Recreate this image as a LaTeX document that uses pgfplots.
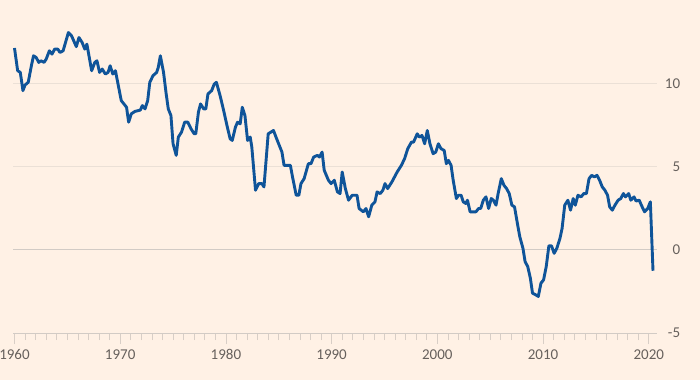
\documentclass[border=0pt]{standalone}
\usepackage{pgfplots}
\pgfplotsset{compat=1.18}
\usepackage{fontspec}
\setmainfont{Carlito}
\definecolor{bg}{HTML}{FFF1E5}
\definecolor{ftblue}{HTML}{0F5499}
\definecolor{gridc}{HTML}{EBE0D6}
\definecolor{zeroc}{HTML}{D2CBC5}
\definecolor{tickc}{HTML}{D8CEC6}
\definecolor{txt}{HTML}{66605C}
\pgfplotstableread{
x y
1960.0 12.17
1960.3 10.8
1960.55 10.7
1960.8 9.6
1961.0 9.94
1961.3 10.1
1961.6 11.1
1961.8 11.7
1962.05 11.6
1962.3 11.3
1962.5 11.4
1962.8 11.3
1963.0 11.5
1963.3 12.0
1963.55 11.8
1963.8 12.1
1964.1 12.1
1964.3 11.9
1964.6 12.0
1965.1 13.1
1965.4 12.9
1965.85 12.25
1966.1 12.8
1966.4 12.5
1966.65 12.1
1966.85 12.4
1967.3 10.8
1967.6 11.3
1967.8 11.4
1968.05 10.7
1968.3 10.9
1968.6 10.6
1968.85 10.7
1969.05 11.1
1969.3 10.6
1969.55 10.8
1970.1 9.0
1970.6 8.6
1970.8 7.7
1971.05 8.2
1971.4 8.35
1971.9 8.43
1972.1 8.7
1972.35 8.5
1972.6 9.0
1972.8 10.1
1973.1 10.5
1973.45 10.7
1973.6 11.0
1973.8 11.7
1974.1 10.7
1974.35 9.4
1974.55 8.5
1974.8 8.1
1975.0 6.4
1975.3 5.7
1975.5 6.8
1975.8 7.1
1976.1 7.7
1976.4 7.7
1976.7 7.3
1977.0 7.0
1977.15 7.0
1977.4 8.3
1977.6 8.8
1977.9 8.5
1978.1 8.5
1978.3 9.4
1978.65 9.6
1978.9 10.0
1979.1 10.1
1979.45 9.3
1979.75 8.5
1980.1 7.5
1980.4 6.7
1980.6 6.6
1980.9 7.4
1981.1 7.7
1981.35 7.6
1981.55 8.6
1981.8 8.1
1982.05 6.6
1982.3 6.8
1982.45 6.2
1982.8 3.6
1983.1 4.0
1983.4 4.0
1983.6 3.8
1984.0 7.0
1984.5 7.2
1984.8 6.7
1985.3 5.9
1985.5 5.1
1986.1 5.1
1986.3 4.4
1986.65 3.3
1986.9 3.3
1987.1 4.0
1987.4 4.3
1987.8 5.2
1988.05 5.2
1988.3 5.6
1988.65 5.7
1988.85 5.6
1989.1 5.9
1989.3 4.8
1989.7 4.2
1989.95 4.0
1990.25 4.2
1990.55 3.5
1990.8 3.4
1991.0 4.7
1991.3 3.7
1991.6 3.0
1991.95 3.3
1992.4 3.3
1992.6 2.5
1993.0 2.3
1993.25 2.5
1993.5 2.0
1993.8 2.7
1994.1 2.9
1994.3 3.5
1994.6 3.4
1994.85 3.6
1995.05 4.0
1995.3 3.7
1995.7 4.1
1996.2 4.7
1996.6 5.1
1996.9 5.5
1997.2 6.1
1997.55 6.5
1997.75 6.5
1998.1 7.0
1998.3 6.8
1998.55 6.9
1998.8 6.4
1999.05 7.2
1999.3 6.4
1999.6 5.8
1999.85 5.9
2000.1 6.4
2000.35 6.1
2000.65 6.0
2000.85 5.2
2001.05 5.4
2001.3 5.1
2001.5 4.2
2001.8 3.1
2002.0 3.3
2002.25 3.3
2002.45 2.9
2002.7 2.8
2002.85 3.0
2003.1 2.3
2003.4 2.3
2003.65 2.3
2003.9 2.5
2004.1 2.5
2004.35 3.0
2004.6 3.2
2004.85 2.5
2005.1 3.1
2005.3 3.0
2005.55 2.7
2005.75 3.4
2006.05 4.3
2006.3 3.9
2006.55 3.7
2006.8 3.4
2007.05 2.7
2007.3 2.6
2007.6 1.5
2007.8 0.8
2008.1 0.1
2008.3 -0.7
2008.55 -1.0
2008.8 -1.7
2009.0 -2.6
2009.3 -2.7
2009.55 -2.8
2009.8 -2.0
2010.05 -1.8
2010.3 -1.0
2010.55 0.25
2010.8 0.25
2011.05 -0.2
2011.3 0.1
2011.6 0.7
2011.8 1.3
2012.05 2.7
2012.35 3.0
2012.6 2.4
2012.85 3.1
2013.05 2.7
2013.3 3.3
2013.6 3.2
2013.85 3.4
2014.1 3.4
2014.35 4.3
2014.6 4.5
2014.85 4.4
2015.1 4.5
2015.35 4.2
2015.6 3.8
2015.85 3.6
2016.1 3.3
2016.3 2.6
2016.55 2.4
2016.8 2.7
2017.1 3.0
2017.35 3.1
2017.6 3.4
2017.8 3.2
2018.1 3.4
2018.3 3.0
2018.6 3.2
2018.8 2.95
2019.1 3.0
2019.3 2.7
2019.6 2.3
2019.9 2.5
2020.15 2.9
2020.4 -1.25
}\datatable
\begin{document}
\begin{tikzpicture}
\fill[bg] (-13bp,-47bp) rectangle (687bp,333bp);
\begin{axis}[
 at={(0,0)}, anchor=south west, scale only axis,
 width=643.7bp, height=315.4bp,
 xmin=1959.86, xmax=2020.75, ymin=-5, ymax=14,
 axis line style={draw=none},
 xtick={1960,1970,...,2020}, minor x tick num=9,
 xtick pos=bottom, tick align=outside,
 major tick length=11bp, minor tick length=7bp,
 x tick style={draw=tickc, line width=0.8bp},
 ytick={5,10}, ytick pos=right, yticklabel pos=right,
 y tick style={draw=none},
 ymajorgrids, grid style={draw=gridc, line width=1bp},
 extra y ticks={-5,0},
 extra y tick style={tick style={draw=none}, grid style={draw=zeroc, line width=1bp}},
 ticklabel style={font=\fontsize{15bp}{18bp}\selectfont, text=txt},
 /pgf/number format/assume math mode=true,
 xticklabel style={/pgf/number format/1000 sep={}, yshift=-2bp},
 yticklabel style={anchor=east, xshift=16bp},
 clip=false,
]
\addplot[ftblue, line width=2.9bp, line join=round] table[x=x,y=y] {\datatable};
\end{axis}
\pgfresetboundingbox
\useasboundingbox (-13bp,-47bp) rectangle (687bp,333bp);
\end{tikzpicture}
\end{document}
